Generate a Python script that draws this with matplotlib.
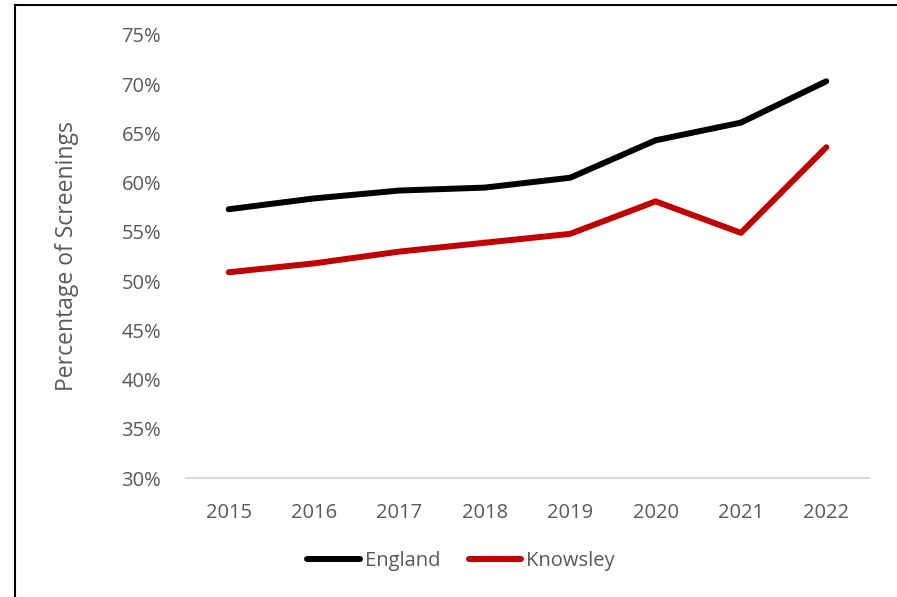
import matplotlib
matplotlib.use("Agg")
import matplotlib.pyplot as plt
from matplotlib.lines import Line2D
from matplotlib.ticker import FuncFormatter

years = ["2015", "2016", "2017", "2018", "2019", "2020", "2021", "2022"]
england = [57.3, 58.4, 59.2, 59.5, 60.5, 64.3, 66.1, 70.3]
knowsley = [50.9, 51.8, 53.0, 53.9, 54.8, 58.1, 54.9, 63.6]
yticks = [30, 35, 40, 45, 50, 55, 60, 65, 70, 75]

plt.rcParams["font.family"] = ["Open Sans", "DejaVu Sans"]
text_col = "#595959"

fig = plt.figure(figsize=(8.97, 5.97), dpi=100)
ax = fig.add_axes([186 / 897, 1 - 478 / 597, (869 - 186) / 897, (478 - 35) / 597])

x = list(range(len(years)))
ax.plot(x, england, color="black", lw=4.3, solid_capstyle="round",
        solid_joinstyle="round", label="England")
ax.plot(x, knowsley, color="#c00000", lw=4.3, solid_capstyle="round",
        solid_joinstyle="round", label="Knowsley")

ax.set_xlim(-0.5, len(years) - 0.5)
ax.set_ylim(30, 75)
ax.set_xticks(x)
ax.set_xticklabels(years)
ax.set_yticks(yticks)
ax.yaxis.set_major_formatter(FuncFormatter(lambda v, p: f"{v:.0f}%"))
ax.tick_params(axis="both", length=0, labelsize=14.5, colors=text_col)
ax.tick_params(axis="y", pad=18)
ax.tick_params(axis="x", pad=18)

for s in ["top", "right", "left"]:
    ax.spines[s].set_visible(False)
ax.spines["bottom"].set_color("#d9d9d9")
ax.spines["bottom"].set_linewidth(1.5)

fig.text(67 / 897, 1 - 256 / 597, "Percentage of Screenings", rotation=90,
         ha="center", va="center", fontsize=16.5, color=text_col)

handles = [Line2D([], [], color="black", lw=4.3, solid_capstyle="round"),
           Line2D([], [], color="#c00000", lw=4.3, solid_capstyle="round")]
fig.legend(handles, ["England", "Knowsley"], loc="center",
           bbox_to_anchor=(461 / 897, 1 - 561 / 597), ncol=2, frameon=False,
           fontsize=14.5, labelcolor=text_col, handlelength=2.6,
           handletextpad=0.25, columnspacing=1.4)

# chart-area frame
fig.add_artist(Line2D([15 / 897, 15 / 897], [0, 1 - 5 / 597],
                      transform=fig.transFigure, color="black", lw=1.5))
fig.add_artist(Line2D([15 / 897, 1], [1 - 5 / 597, 1 - 5 / 597],
                      transform=fig.transFigure, color="black", lw=1.5))

fig.savefig("out.png", dpi=100)
